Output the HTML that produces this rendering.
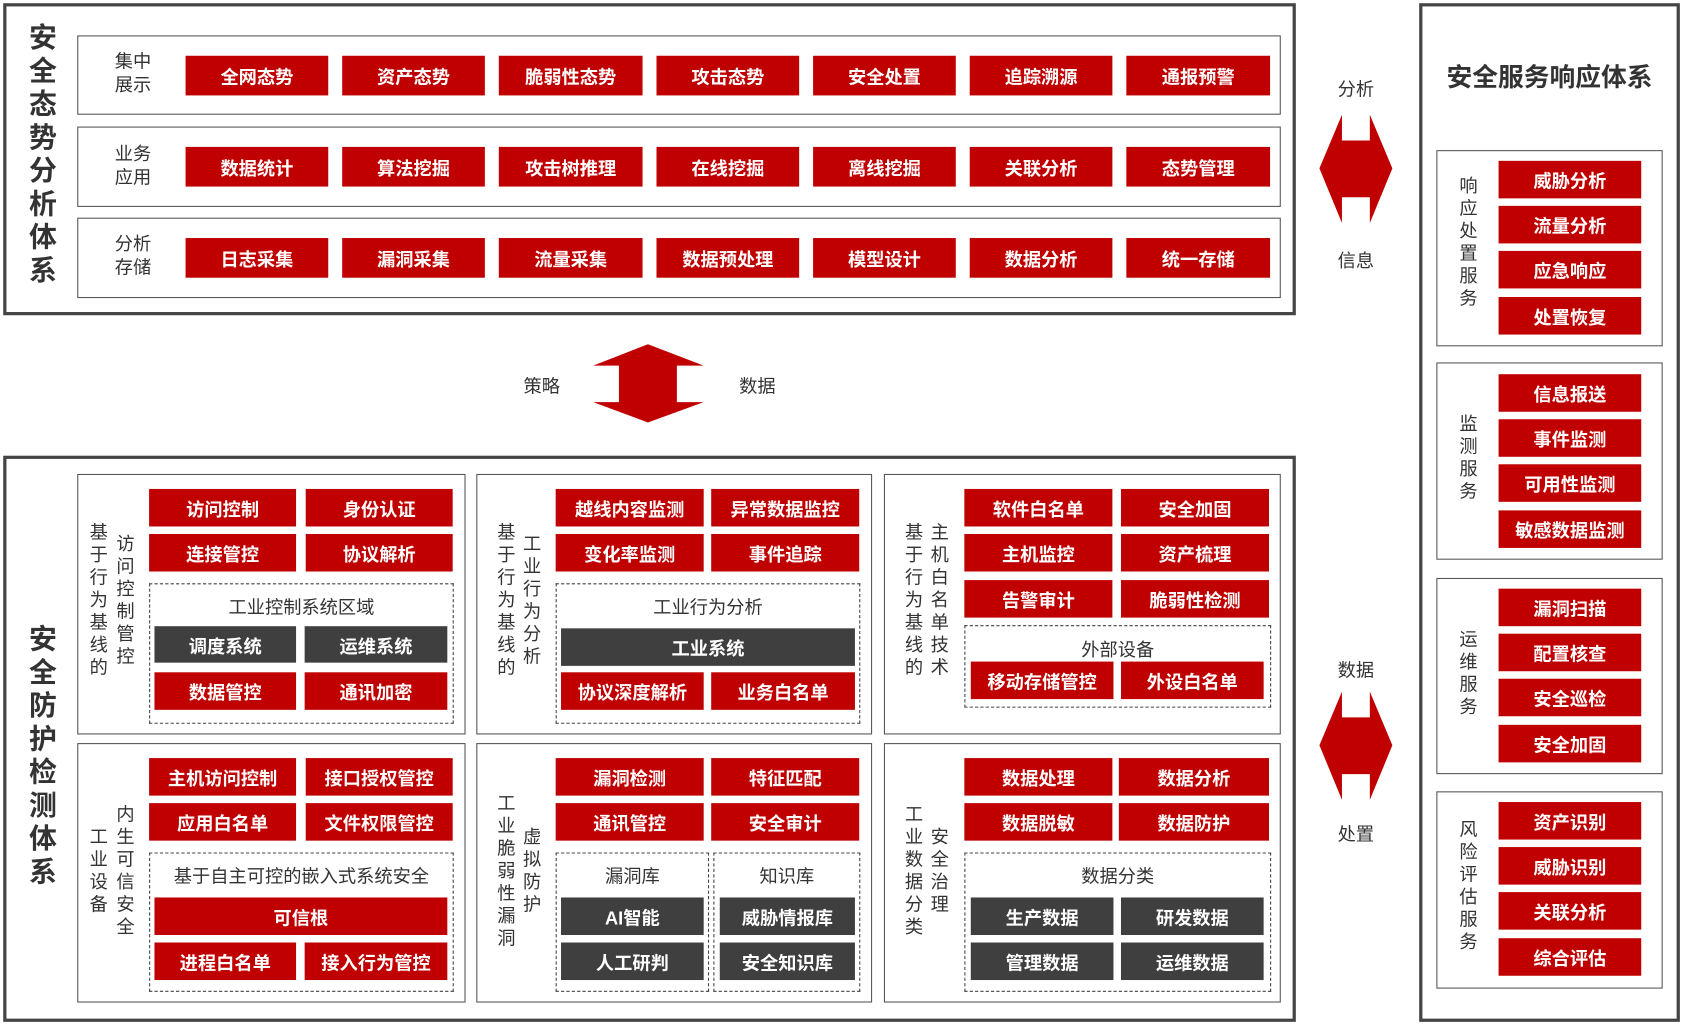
<!DOCTYPE html>
<html><head><meta charset="utf-8">
<style>
html,body{margin:0;padding:0;background:#fff;width:1682px;height:1024px;overflow:hidden}
#w{position:absolute;left:0;top:0;width:1568px;height:955px;transform-origin:0 0;transform:scale(1.07270,1.07225);font-family:"Liberation Sans","Noto Sans CJK SC",sans-serif}
#w div{position:absolute;box-sizing:border-box}
.big{border:3px solid #444}
.row{border:1.5px solid #555}
.cell{border:1.5px solid #555}
.dash{border:1.3px dashed #444}
.r,.d{color:#fff;font-weight:bold;font-size:17px;display:flex;align-items:center;justify-content:center;white-space:nowrap}
.r{background:#c00000}
.d{background:#3f3f3f}
.t{color:#333;font-size:17px;text-align:center;white-space:nowrap}
.v{color:#333;font-size:17px;width:20px;line-height:21px;text-align:center}
.vb{color:#333;font-size:26px;font-weight:bold;width:30px;line-height:31px;text-align:center}
.lab{color:#333;font-size:17px;line-height:22px;text-align:center}
</style></head><body><div id="w">

<!-- top box -->
<div class="big" style="left:3px;top:3px;width:1205px;height:291px"></div>
<div class="vb" style="left:25px;top:20px">安全态势分析体系</div>
<div class="row" style="left:72px;top:33px;width:1122px;height:74px"></div>
<div class="row" style="left:72px;top:118px;width:1122px;height:75px"></div>
<div class="row" style="left:72px;top:203px;width:1122px;height:75px"></div>
<div class="lab" style="left:100px;top:47px;width:48px">集中<br>展示</div>
<div class="lab" style="left:100px;top:133px;width:48px">业务<br>应用</div>
<div class="lab" style="left:100px;top:217px;width:48px">分析<br>存储</div>

<div class="r" style="left:173px;top:52px;width:133px;height:37px">全网态势</div>
<div class="r" style="left:319px;top:52px;width:133px;height:37px">资产态势</div>
<div class="r" style="left:465px;top:52px;width:134px;height:37px">脆弱性态势</div>
<div class="r" style="left:612px;top:52px;width:133px;height:37px">攻击态势</div>
<div class="r" style="left:758px;top:52px;width:133px;height:37px">安全处置</div>
<div class="r" style="left:904px;top:52px;width:133px;height:37px">追踪溯源</div>
<div class="r" style="left:1050px;top:52px;width:134px;height:37px">通报预警</div>

<div class="r" style="left:173px;top:137px;width:133px;height:37px">数据统计</div>
<div class="r" style="left:319px;top:137px;width:133px;height:37px">算法挖掘</div>
<div class="r" style="left:465px;top:137px;width:134px;height:37px">攻击树推理</div>
<div class="r" style="left:612px;top:137px;width:133px;height:37px">在线挖掘</div>
<div class="r" style="left:758px;top:137px;width:133px;height:37px">离线挖掘</div>
<div class="r" style="left:904px;top:137px;width:133px;height:37px">关联分析</div>
<div class="r" style="left:1050px;top:137px;width:134px;height:37px">态势管理</div>

<div class="r" style="left:173px;top:222px;width:133px;height:37px">日志采集</div>
<div class="r" style="left:319px;top:222px;width:133px;height:37px">漏洞采集</div>
<div class="r" style="left:465px;top:222px;width:134px;height:37px">流量采集</div>
<div class="r" style="left:612px;top:222px;width:133px;height:37px">数据预处理</div>
<div class="r" style="left:758px;top:222px;width:133px;height:37px">模型设计</div>
<div class="r" style="left:904px;top:222px;width:133px;height:37px">数据分析</div>
<div class="r" style="left:1050px;top:222px;width:134px;height:37px">统一存储</div>

<!-- arrows -->
<svg style="position:absolute;left:0;top:0" width="1568" height="955">
<polygon fill="#c00000" points="1251,107 1251,131 1277,131 1277,107 1298,157 1277,208 1277,184 1251,184 1251,208 1230,157"/>
<polygon fill="#c00000" points="1251,645 1251,669 1277,669 1277,645 1298,695 1277,746 1277,722 1251,722 1251,746 1230,695"/>
<polygon fill="#c00000" points="604,321 656,341 631,341 631,375 656,375 604,394 553,375 577,375 577,341 553,341"/>
</svg>
<div class="t" style="left:1234px;top:69px;width:60px">分析</div>
<div class="t" style="left:1234px;top:229px;width:60px">信息</div>
<div class="t" style="left:1234px;top:611px;width:60px">数据</div>
<div class="t" style="left:1234px;top:764px;width:60px">处置</div>
<div class="t" style="left:475px;top:346px;width:60px">策略</div>
<div class="t" style="left:676px;top:346px;width:60px">数据</div>

<!-- right panel -->
<div class="big" style="left:1323px;top:3px;width:243px;height:950px"></div>
<div class="t" style="left:1323px;top:52px;width:243px;font-size:24px;font-weight:bold">安全服务响应体系</div>

<div class="row" style="left:1339px;top:140px;width:211px;height:183px"></div>
<div class="v" style="left:1359px;top:163px">响应处置服务</div>
<div class="r" style="left:1397px;top:150px;width:133px;height:35px">威胁分析</div>
<div class="r" style="left:1397px;top:192px;width:133px;height:35px">流量分析</div>
<div class="r" style="left:1397px;top:234px;width:133px;height:35px">应急响应</div>
<div class="r" style="left:1397px;top:277px;width:133px;height:35px">处置恢复</div>

<div class="row" style="left:1339px;top:338px;width:211px;height:184px"></div>
<div class="v" style="left:1359px;top:385px">监测服务</div>
<div class="r" style="left:1397px;top:349px;width:133px;height:35px">信息报送</div>
<div class="r" style="left:1397px;top:391px;width:133px;height:35px">事件监测</div>
<div class="r" style="left:1397px;top:433px;width:133px;height:35px">可用性监测</div>
<div class="r" style="left:1397px;top:476px;width:133px;height:35px">敏感数据监测</div>

<div class="row" style="left:1339px;top:539px;width:211px;height:183px"></div>
<div class="v" style="left:1359px;top:586px">运维服务</div>
<div class="r" style="left:1397px;top:549px;width:133px;height:35px">漏洞扫描</div>
<div class="r" style="left:1397px;top:591px;width:133px;height:35px">配置核查</div>
<div class="r" style="left:1397px;top:633px;width:133px;height:35px">安全巡检</div>
<div class="r" style="left:1397px;top:676px;width:133px;height:35px">安全加固</div>

<div class="row" style="left:1339px;top:738px;width:211px;height:184px"></div>
<div class="v" style="left:1359px;top:763px">风险评估服务</div>
<div class="r" style="left:1397px;top:748px;width:133px;height:35px">资产识别</div>
<div class="r" style="left:1397px;top:790px;width:133px;height:35px">威胁识别</div>
<div class="r" style="left:1397px;top:832px;width:133px;height:35px">关联分析</div>
<div class="r" style="left:1397px;top:875px;width:133px;height:35px">综合评估</div>

<!-- lower box -->
<div class="big" style="left:3px;top:425px;width:1205px;height:528px"></div>
<div class="vb" style="left:25px;top:581px">安全防护检测体系</div>

<!-- cell 1 -->
<div class="cell" style="left:72px;top:442px;width:362px;height:243px"></div>
<div class="v" style="left:82px;top:486px">基于行为基线的</div>
<div class="v" style="left:107px;top:497px">访问控制管控</div>
<div class="r" style="left:139px;top:456px;width:137px;height:35px">访问控制</div>
<div class="r" style="left:285px;top:456px;width:137px;height:35px">身份认证</div>
<div class="r" style="left:139px;top:498px;width:137px;height:35px">连接管控</div>
<div class="r" style="left:285px;top:498px;width:137px;height:35px">协议解析</div>
<div class="dash" style="left:139px;top:544px;width:284px;height:131px"></div>
<div class="t" style="left:139px;top:552px;width:284px">工业控制系统区域</div>
<div class="d" style="left:144px;top:584px;width:132px;height:34px">调度系统</div>
<div class="d" style="left:284px;top:584px;width:133px;height:34px">运维系统</div>
<div class="r" style="left:144px;top:627px;width:132px;height:35px">数据管控</div>
<div class="r" style="left:284px;top:627px;width:133px;height:35px">通讯加密</div>

<!-- cell 2 -->
<div class="cell" style="left:444px;top:442px;width:369px;height:243px"></div>
<div class="v" style="left:462px;top:486px">基于行为基线的</div>
<div class="v" style="left:486px;top:497px">工业行为分析</div>
<div class="r" style="left:518px;top:456px;width:138px;height:35px">越线内容监测</div>
<div class="r" style="left:663px;top:456px;width:138px;height:35px">异常数据监控</div>
<div class="r" style="left:518px;top:498px;width:138px;height:35px">变化率监测</div>
<div class="r" style="left:663px;top:498px;width:138px;height:35px">事件追踪</div>
<div class="dash" style="left:518px;top:544px;width:284px;height:131px"></div>
<div class="t" style="left:518px;top:552px;width:284px">工业行为分析</div>
<div class="d" style="left:523px;top:586px;width:274px;height:35px">工业系统</div>
<div class="r" style="left:523px;top:627px;width:133px;height:35px">协议深度解析</div>
<div class="r" style="left:663px;top:627px;width:134px;height:35px">业务白名单</div>

<!-- cell 3 -->
<div class="cell" style="left:824px;top:442px;width:370px;height:243px"></div>
<div class="v" style="left:842px;top:486px">基于行为基线的</div>
<div class="v" style="left:866px;top:486px">主机白名单技术</div>
<div class="r" style="left:899px;top:456px;width:138px;height:35px">软件白名单</div>
<div class="r" style="left:1045px;top:456px;width:138px;height:35px">安全加固</div>
<div class="r" style="left:899px;top:498px;width:138px;height:35px">主机监控</div>
<div class="r" style="left:1045px;top:498px;width:138px;height:35px">资产梳理</div>
<div class="r" style="left:899px;top:541px;width:138px;height:35px">告警审计</div>
<div class="r" style="left:1045px;top:541px;width:138px;height:35px">脆弱性检测</div>
<div class="dash" style="left:899px;top:583px;width:286px;height:77px"></div>
<div class="t" style="left:899px;top:592px;width:286px">外部设备</div>
<div class="r" style="left:905px;top:617px;width:133px;height:35px">移动存储管控</div>
<div class="r" style="left:1045px;top:617px;width:133px;height:35px">外设白名单</div>

<!-- cell 4 -->
<div class="cell" style="left:72px;top:693px;width:362px;height:242px"></div>
<div class="v" style="left:82px;top:770px">工业设备</div>
<div class="v" style="left:107px;top:749px">内生可信安全</div>
<div class="r" style="left:139px;top:707px;width:137px;height:35px">主机访问控制</div>
<div class="r" style="left:285px;top:707px;width:137px;height:35px">接口授权管控</div>
<div class="r" style="left:139px;top:749px;width:137px;height:35px">应用白名单</div>
<div class="r" style="left:285px;top:749px;width:137px;height:35px">文件权限管控</div>
<div class="dash" style="left:139px;top:795px;width:284px;height:130px"></div>
<div class="t" style="left:139px;top:803px;width:284px">基于自主可控的嵌入式系统安全</div>
<div class="r" style="left:144px;top:837px;width:273px;height:35px">可信根</div>
<div class="r" style="left:144px;top:879px;width:132px;height:35px">进程白名单</div>
<div class="r" style="left:284px;top:879px;width:133px;height:35px">接入行为管控</div>

<!-- cell 5 -->
<div class="cell" style="left:444px;top:693px;width:369px;height:242px"></div>
<div class="v" style="left:462px;top:739px">工业脆弱性漏洞</div>
<div class="v" style="left:486px;top:770px">虚拟防护</div>
<div class="r" style="left:518px;top:707px;width:138px;height:35px">漏洞检测</div>
<div class="r" style="left:663px;top:707px;width:138px;height:35px">特征匹配</div>
<div class="r" style="left:518px;top:749px;width:138px;height:35px">通讯管控</div>
<div class="r" style="left:663px;top:749px;width:138px;height:35px">安全审计</div>
<div class="dash" style="left:518px;top:795px;width:143px;height:130px"></div>
<div class="dash" style="left:665px;top:795px;width:137px;height:130px"></div>
<div class="t" style="left:518px;top:803px;width:143px">漏洞库</div>
<div class="t" style="left:665px;top:803px;width:137px">知识库</div>
<div class="d" style="left:523px;top:837px;width:133px;height:35px">AI智能</div>
<div class="d" style="left:671px;top:837px;width:126px;height:35px">威胁情报库</div>
<div class="d" style="left:523px;top:879px;width:133px;height:35px">人工研判</div>
<div class="d" style="left:671px;top:879px;width:126px;height:35px">安全知识库</div>

<!-- cell 6 -->
<div class="cell" style="left:824px;top:693px;width:370px;height:242px"></div>
<div class="v" style="left:842px;top:749px">工业数据分类</div>
<div class="v" style="left:866px;top:770px">安全治理</div>
<div class="r" style="left:899px;top:707px;width:138px;height:35px">数据处理</div>
<div class="r" style="left:1043px;top:707px;width:140px;height:35px">数据分析</div>
<div class="r" style="left:899px;top:749px;width:138px;height:35px">数据脱敏</div>
<div class="r" style="left:1043px;top:749px;width:140px;height:35px">数据防护</div>
<div class="dash" style="left:899px;top:795px;width:286px;height:130px"></div>
<div class="t" style="left:899px;top:803px;width:286px">数据分类</div>
<div class="d" style="left:905px;top:837px;width:133px;height:35px">生产数据</div>
<div class="d" style="left:1045px;top:837px;width:133px;height:35px">研发数据</div>
<div class="d" style="left:905px;top:879px;width:133px;height:35px">管理数据</div>
<div class="d" style="left:1045px;top:879px;width:133px;height:35px">运维数据</div>

</div></body></html>
